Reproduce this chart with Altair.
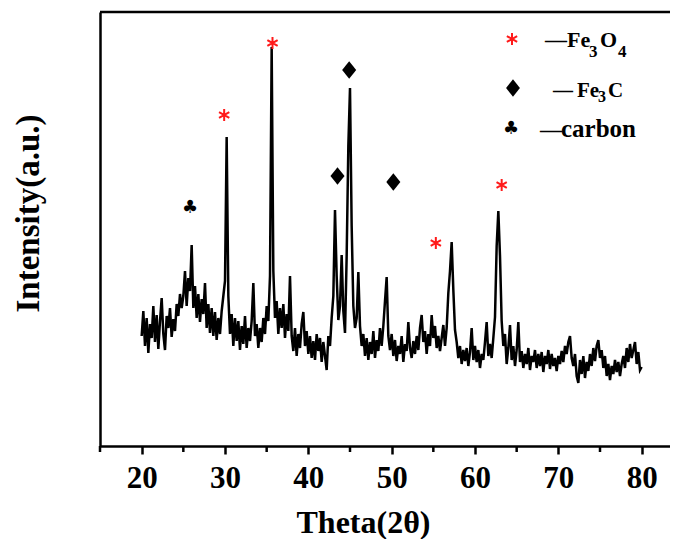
import altair as alt
import pandas as pd

# ---- XRD pattern (2-theta grid 20.0 .. 80.0, step 0.2), intensity in a.u. ----
theta_start = 20.0
theta_step = 0.2
seg_20 = [110, 135, 100, 128, 93, 122, 108, 140, 104, 131, 97, 125, 148, 112, 96,
          130, 118, 138, 109, 127, 115, 142, 130, 152, 138]
seg_25 = [150, 175, 140, 168, 155, 201, 138, 160, 128, 152, 124, 147, 132, 163, 118,
          142, 113, 138, 110, 134, 106, 128, 112, 135, 150]
seg_30 = [165, 309, 150, 112, 132, 100, 128, 105, 125, 96, 120, 102, 130, 98, 118,
          105, 125, 163, 110, 122, 98, 118, 104, 128, 112]
seg_35 = [140, 125, 170, 399, 175, 128, 145, 112, 138, 118, 142, 108, 132, 115, 170,
          110, 95, 118, 90, 112, 98, 122, 134, 100, 115]
seg_40 = [92, 110, 88, 105, 86, 112, 95, 108, 84, 104, 90, 76, 110, 100, 128,
          150, 236, 170, 126, 140, 191, 135, 113, 190, 300]
seg_45 = [358, 220, 140, 118, 128, 174, 120, 100, 112, 90, 108, 86, 104, 92, 115,
          88, 106, 95, 118, 100, 120, 145, 169, 110, 96]
seg_50 = [112, 90, 106, 85, 100, 92, 110, 84, 102, 95, 124, 98, 88, 105, 92,
          110, 96, 118, 131, 104, 115, 92, 112, 100, 131]
seg_55 = [108, 120, 98, 110, 95, 108, 121, 100, 118, 153, 175, 204, 156, 116, 104,
          88, 100, 82, 96, 85, 98, 80, 94, 118, 86]
seg_60 = [100, 84, 96, 78, 92, 86, 104, 124, 90, 102, 88, 108, 129, 200, 235,
          190, 125, 100, 112, 82, 98, 121, 86, 100, 80]
seg_65 = [96, 124, 84, 95, 78, 92, 82, 98, 76, 90, 84, 96, 78, 92, 80,
          94, 74, 90, 82, 96, 77, 92, 80, 88, 75]
seg_70 = [90, 82, 95, 84, 100, 92, 104, 110, 88, 80, 92, 70, 63, 86, 72,
          90, 68, 84, 75, 92, 80, 98, 85, 100, 106]
seg_75 = [88, 96, 78, 90, 70, 82, 66, 80, 72, 86, 74, 84, 70, 82, 90,
          78, 98, 84, 102, 88, 96, 104, 82, 94, 76]
seg_80 = [79]

intensity = (seg_20 + seg_25 + seg_30 + seg_35 + seg_40 + seg_45 + seg_50 +
             seg_55 + seg_60 + seg_65 + seg_70 + seg_75 + seg_80)
theta = [round(theta_start + theta_step * i, 1) for i in range(len(intensity))]

# ---- phase markers above peaks ----
fe3o4_theta = [29.9, 35.7, 55.3, 63.2]
fe3o4_y = [331, 403, 203, 261]
fe3c_theta = [43.5, 44.9, 50.2]
fe3c_y = [270, 376, 264]
carbon_theta = [25.8]
carbon_y = [238]

x_ticks = [20, 30, 40, 50, 60, 70, 80]
x_minor = [15, 25, 35, 45, 55, 65, 75]

W, H = 570, 434
FONT = "Liberation Serif"
ASTER = "M0,-1L0,1M-0.87,-0.5L0.87,0.5M-0.87,0.5L0.87,-0.5"
DIAMOND = "M0,-1L0.8,0L0,1L-0.8,0Z"

df = pd.DataFrame({"theta": theta, "intensity": intensity})
xscale = alt.Scale(domain=[15, 83.4], nice=False, zero=False)
yscale = alt.Scale(domain=[0, 434], nice=False, zero=False)

line = alt.Chart(df).mark_line(color="black", strokeWidth=2.5).encode(
    x=alt.X("theta:Q", scale=xscale, axis=alt.Axis(
        values=x_ticks, grid=False, tickSize=8, tickWidth=2.5, tickColor="black",
        domainColor="black", domainWidth=2.5, labelFont=FONT, labelFontWeight="bold",
        labelFontSize=31, labelColor="black", labelPadding=9, labelFlush=False,
        title="Theta(2θ)", titleFont=FONT, titleFontWeight="bold", titleFontSize=32,
        titleColor="black", titleX=263, titleY=76, titleBaseline="middle",
        titleAlign="center", titleAnchor="start")),
    y=alt.Y("intensity:Q", scale=yscale, axis=alt.Axis(
        ticks=False, labels=False, grid=False, domainColor="black", domainWidth=2.5,
        title="Intensity(a.u.)", titleFont=FONT, titleFontWeight="bold",
        titleFontSize=33, titleColor="black", titleAngle=-90, titleX=-72, titleY=201,
        titleBaseline="middle", titleAlign="center", titleAnchor="start")),
)

minor = alt.Chart(pd.DataFrame({"m": x_minor})).mark_rule(
    color="black", strokeWidth=2.5
).encode(
    x=alt.X("m:Q", scale=xscale),
    y=alt.value(H), y2=alt.value(H + 6),
)

fe3o4 = alt.Chart(pd.DataFrame({"t": fe3o4_theta, "v": fe3o4_y})).mark_point(
    shape=ASTER, size=140, color="#ff1a1a", strokeWidth=2, filled=False, opacity=1
).encode(x=alt.X("t:Q", scale=xscale), y=alt.Y("v:Q", scale=yscale))

fe3c = alt.Chart(pd.DataFrame({"t": fe3c_theta, "v": fe3c_y})).mark_point(
    shape=DIAMOND, size=310, color="black", filled=True, opacity=1
).encode(x=alt.X("t:Q", scale=xscale), y=alt.Y("v:Q", scale=yscale))

carbon = alt.Chart(pd.DataFrame({"t": carbon_theta, "v": carbon_y})).mark_text(
    text="♣", font="DejaVu Sans", fontSize=18, color="black", baseline="middle",
    align="center"
).encode(x=alt.X("t:Q", scale=xscale), y=alt.Y("v:Q", scale=yscale))

one = pd.DataFrame({"a": [0]})

top_border = alt.Chart(one).mark_rule(color="black", strokeWidth=2.5).encode(
    x=alt.value(0), x2=alt.value(W), y=alt.value(0))

# legend
leg_aster = alt.Chart(one).mark_point(
    shape=ASTER, size=140, color="#ff1a1a", strokeWidth=2, filled=False, opacity=1
).encode(x=alt.value(412), y=alt.value(27))
leg_diam = alt.Chart(one).mark_point(
    shape=DIAMOND, size=300, color="black", filled=True, opacity=1
).encode(x=alt.value(413), y=alt.value(76))
leg_club = alt.Chart(one).mark_text(
    text="♣", font="DejaVu Sans", fontSize=18, color="black", baseline="middle",
    align="center").encode(x=alt.value(411), y=alt.value(117))


def txt(s, x, y, size):
    return alt.Chart(one).mark_text(
        text=s, font=FONT, fontWeight="bold", fontSize=size, color="black",
        align="left", baseline="alphabetic").encode(x=alt.value(x), y=alt.value(y))


legend_text = [
    txt("—Fe", 445, 35, 22), txt("3", 489, 45, 17), txt("O", 500, 35, 22),
    txt("4", 518, 45, 17),
    txt("—", 453, 85, 20), txt("Fe", 477, 85, 21), txt("3", 498, 90, 16),
    txt("C", 508, 85, 21),
    txt("—", 440, 125, 22), txt("carbon", 461, 125, 25),
]

chart = alt.layer(
    line, minor, fe3o4, fe3c, carbon, top_border, leg_aster, leg_diam, leg_club,
    *legend_text
).properties(
    width=W, height=H,
    autosize=alt.AutoSizeParams(type="none"),
    padding={"left": 92, "top": 4, "right": 0, "bottom": 93},
).configure_view(stroke=None)

chart.save("out.html", embed_options={"renderer": "svg", "actions": False})
